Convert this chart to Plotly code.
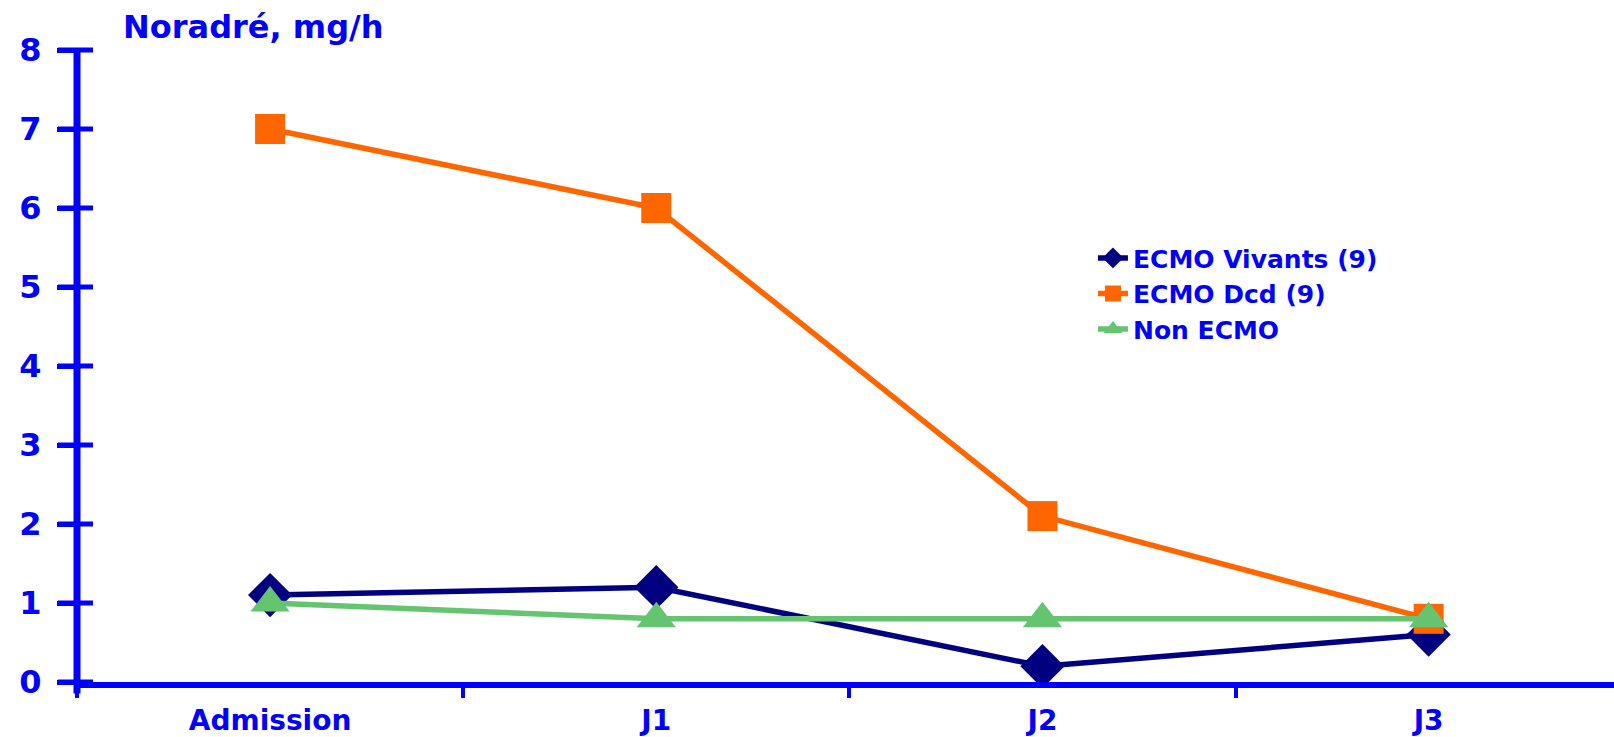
import plotly.graph_objects as go

# Noradrenaline dose (mg/h) over the first days
days = ["Admission", "J1", "J2", "J3"]
ecmo_vivants = [1.1, 1.2, 0.2, 0.6]
ecmo_dcd = [7.0, 6.0, 2.1, 0.8]
non_ecmo = [1.0, 0.8, 0.8, 0.8]

y_ticks = [0, 1, 2, 3, 4, 5, 6, 7, 8]
Y_MAX = 8

BLUE = "#0000FF"
FONT = "DejaVu Sans"

fig = go.Figure()
fig.add_trace(go.Scatter(
    x=days, y=ecmo_vivants, name="ECMO Vivants (9)", mode="lines+markers",
    line=dict(color="#000080", width=5.5),
    marker=dict(symbol="diamond", size=34, color="#000080"),
))
fig.add_trace(go.Scatter(
    x=days, y=ecmo_dcd, name="ECMO Dcd (9)", mode="lines+markers",
    line=dict(color="#FF6600", width=5.5),
    marker=dict(symbol="square", size=30, color="#FF6600"),
))
fig.add_trace(go.Scatter(
    x=days, y=non_ecmo, name="Non ECMO", mode="lines+markers",
    line=dict(color="#64C46F", width=5.5),
    marker=dict(symbol="triangle-up", size=34, color="#64C46F"),
))

# Vertical axis line (running a little below zero) and crossing tick marks,
# placed in paper space so they are not clipped to the plotting area
shapes = [dict(
    type="line", xref="paper", yref="paper", x0=0, x1=0, y0=-0.018, y1=1,
    line=dict(color=BLUE, width=7), layer="above",
)]
for v in y_ticks:
    yp = v / Y_MAX
    shapes.append(dict(
        type="line", xref="paper", yref="paper", xsizemode="pixel", xanchor=0,
        x0=-19, x1=16, y0=yp, y1=yp, line=dict(color=BLUE, width=5), layer="above",
    ))

fig.update_layout(
    width=1614, height=737,
    margin=dict(l=77, r=0, t=50, b=55),
    paper_bgcolor="white", plot_bgcolor="white",
    showlegend=True,
    legend=dict(
        x=0.661, y=0.707, xanchor="left", yanchor="top",
        font=dict(family=FONT, size=25, color=BLUE, weight="bold"),
        bgcolor="rgba(0,0,0,0)", tracegroupgap=0,
    ),
    xaxis=dict(
        type="category", range=[-0.5, 3.48],
        showline=True, linecolor=BLUE, linewidth=6,
        ticks="outside", tickson="boundaries", ticklen=10, tickwidth=4, tickcolor=BLUE,
        tickfont=dict(family=FONT, size=28, color=BLUE, weight="bold"),
        ticklabelstandoff=8,
        showgrid=False, zeroline=False, automargin=False,
    ),
    yaxis=dict(
        range=[0, Y_MAX], tickvals=y_ticks,
        showline=False,
        ticks="outside", ticklen=19, tickwidth=5, tickcolor=BLUE,
        tickfont=dict(family=FONT, size=32, color=BLUE, weight="bold"),
        ticklabelstandoff=9,
        showgrid=False, zeroline=False, automargin=False,
    ),
    shapes=shapes,
    annotations=[dict(
        text="Noradré, mg/h", xref="paper", yref="paper",
        x=0.0286, y=1.036, xanchor="left", yanchor="middle", showarrow=False,
        font=dict(family=FONT, size=32, color=BLUE, weight="bold"),
    )],
)

fig.write_html("out.html")
